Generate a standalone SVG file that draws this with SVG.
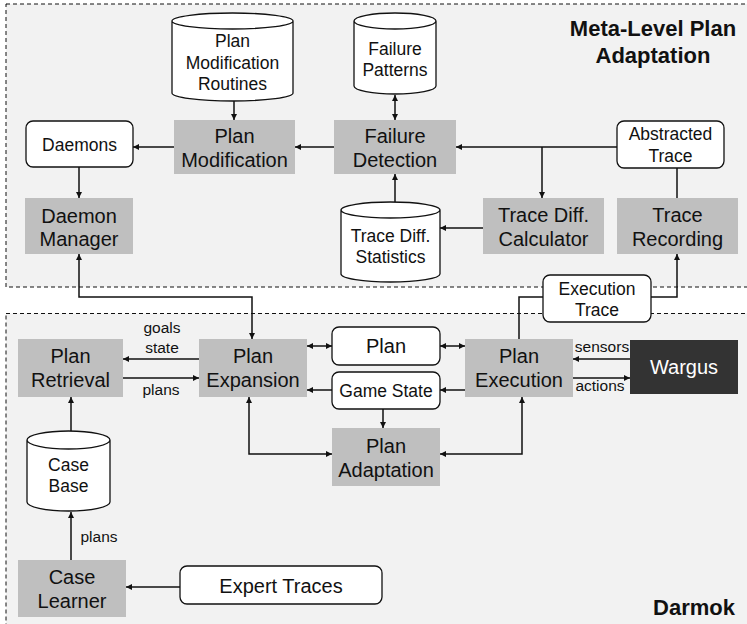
<svg xmlns="http://www.w3.org/2000/svg" width="747" height="624" viewBox="0 0 747 624">
<style>
text{font-family:"Liberation Sans",Arial,sans-serif;fill:#111;text-anchor:middle}
.g{fill:#bfbfbf}
.w{fill:#fff;stroke:#111;stroke-width:1.3}
.t20{font-size:20px}
.t17{font-size:17.5px}
.t15{font-size:15.5px}
.ttl{font-size:22px;font-weight:bold}
.c{fill:none;stroke:#111;stroke-width:1.5}
.cont{fill:#f2f2f2;stroke:#111;stroke-width:1;stroke-dasharray:4 3}
</style>
<defs>
<marker id="a" markerUnits="userSpaceOnUse" markerWidth="7" markerHeight="7" refX="6" refY="3" orient="auto-start-reverse"><path d="M0,0 L6,3 L0,6 z" fill="#111"/></marker>
</defs>
<rect width="747" height="624" fill="#fff"/>
<g id="meta-container"><rect class="cont" x="6" y="4" width="800" height="283"/><text class="ttl" x="653" y="36">Meta-Level Plan</text><text class="ttl" x="653" y="63">Adaptation</text></g>
<g id="darmok-container"><rect class="cont" x="6" y="313.5" width="800" height="400"/><text class="ttl" x="694" y="615">Darmok</text></g>

<g id="connectors">
<path class="c" d="M234,101 V120" marker-end="url(#a)"/>
<path class="c" d="M174,147 H133" marker-end="url(#a)"/>
<path class="c" d="M79,167 V198" marker-end="url(#a)"/>
<path class="c" d="M334,147 H295" marker-end="url(#a)"/>
<path class="c" d="M395,95 V120" marker-start="url(#a)" marker-end="url(#a)"/>
<path class="c" d="M395,202 V174" marker-end="url(#a)"/>
<path class="c" d="M617,147 H456" marker-end="url(#a)"/>
<path class="c" d="M542,147 V198" marker-end="url(#a)"/>
<path class="c" d="M677,198 V168"/>
<path class="c" d="M483,228 H440" marker-end="url(#a)"/>
<path class="c" d="M519,339 V297 H543"/>
<path class="c" d="M651,297 H677 V254" marker-end="url(#a)"/>
<path class="c" d="M79,254 V297 H252 V339" marker-start="url(#a)" marker-end="url(#a)"/>
<path class="c" d="M199,359 H123" marker-end="url(#a)"/>
<path class="c" d="M123,378 H199" marker-end="url(#a)"/>
<path class="c" d="M71,397 V440" marker-start="url(#a)" marker-end="url(#a)"/>
<path class="c" d="M307,346 H332" marker-start="url(#a)" marker-end="url(#a)"/>
<path class="c" d="M440,346 H465" marker-start="url(#a)" marker-end="url(#a)"/>
<path class="c" d="M332,390 H307" marker-end="url(#a)"/>
<path class="c" d="M465,390 H440" marker-end="url(#a)"/>
<path class="c" d="M383,409 V428" marker-end="url(#a)"/>
<path class="c" d="M249,397 V454 H332" marker-start="url(#a)" marker-end="url(#a)"/>
<path class="c" d="M522,397 V454 H440" marker-start="url(#a)" marker-end="url(#a)"/>
<path class="c" d="M630,359 H573" marker-end="url(#a)"/>
<path class="c" d="M573,378 H630" marker-end="url(#a)"/>
<path class="c" d="M71,560 V512" marker-end="url(#a)"/>
<path class="c" d="M180,587 H126" marker-end="url(#a)"/>
<text class="t15" x="162" y="333">goals</text>
<text class="t15" x="162" y="353">state</text>
<text class="t15" x="161" y="395">plans</text>
<text class="t15" x="602" y="352">sensors</text>
<text class="t15" x="600" y="391">actions</text>
<text class="t15" x="99" y="542">plans</text>
</g>

<g id="plan-modification-routines"><path class="w" d="M172,21 V93 A60.5,8 0 0 0 293,93 V21 A60.5,8 0 0 0 172,21 Z M172,21 A60.5,8 0 0 0 293,21"/><text class="t17" x="232.5" y="47">Plan</text><text class="t17" x="232.5" y="68.5">Modification</text><text class="t17" x="232.5" y="90">Routines</text></g>
<g id="failure-patterns"><path class="w" d="M354,21 V86 A41,8 0 0 0 436,86 V21 A41,8 0 0 0 354,21 Z M354,21 A41,8 0 0 0 436,21"/><text class="t17" x="395" y="55">Failure</text><text class="t17" x="395" y="76">Patterns</text></g>
<g id="trace-diff-statistics"><path class="w" d="M341,210 V274 A49.5,8 0 0 0 440,274 V210 A49.5,8 0 0 0 341,210 Z M341,210 A49.5,8 0 0 0 440,210"/><text class="t17" x="390.5" y="242">Trace Diff.</text><text class="t17" x="390.5" y="263">Statistics</text></g>
<g id="case-base"><path class="w" d="M27,440 V502 A41.5,9 0 0 0 110,502 V440 A41.5,9 0 0 0 27,440 Z M27,440 A41.5,9 0 0 0 110,440"/><text class="t17" x="68.5" y="471">Case</text><text class="t17" x="68.5" y="492">Base</text></g>

<g id="daemons"><rect class="w" x="26" y="121" width="107" height="46" rx="7"/><text class="t17" x="79.5" y="150.5">Daemons</text></g>
<g id="plan-modification"><rect class="g" x="174" y="120" width="121" height="54"/><text class="t20" x="234.5" y="143">Plan</text><text class="t20" x="234.5" y="167">Modification</text></g>
<g id="failure-detection"><rect class="g" x="334" y="120" width="122" height="54"/><text class="t20" x="395" y="143">Failure</text><text class="t20" x="395" y="167">Detection</text></g>
<g id="abstracted-trace"><rect class="w" x="617" y="121" width="107" height="47" rx="7"/><text class="t17" x="670.5" y="140">Abstracted</text><text class="t17" x="670.5" y="162">Trace</text></g>
<g id="daemon-manager"><rect class="g" x="25" y="198" width="108" height="56"/><text class="t20" x="79" y="222.5">Daemon</text><text class="t20" x="79" y="246">Manager</text></g>
<g id="trace-diff-calculator"><rect class="g" x="483" y="198" width="121" height="56"/><text class="t20" x="543.5" y="222">Trace Diff.</text><text class="t20" x="543.5" y="245.5">Calculator</text></g>
<g id="trace-recording"><rect class="g" x="617" y="198" width="121" height="56"/><text class="t20" x="677.5" y="222">Trace</text><text class="t20" x="677.5" y="245.5">Recording</text></g>
<g id="execution-trace"><rect class="w" x="543" y="275" width="108" height="47" rx="7"/><text class="t17" x="597" y="295">Execution</text><text class="t17" x="597" y="316">Trace</text></g>

<g id="plan-retrieval"><rect class="g" x="18" y="339" width="105" height="58"/><text class="t20" x="70.5" y="363">Plan</text><text class="t20" x="70.5" y="387">Retrieval</text></g>
<g id="plan-expansion"><rect class="g" x="199" y="339" width="108" height="58"/><text class="t20" x="253" y="363">Plan</text><text class="t20" x="253" y="387">Expansion</text></g>
<g id="plan"><rect class="w" x="332" y="327" width="108" height="38" rx="7"/><text class="t20" x="386" y="353">Plan</text></g>
<g id="game-state"><rect class="w" x="332" y="372" width="108" height="37" rx="7"/><text class="t17" x="386" y="397">Game State</text></g>
<g id="plan-execution"><rect class="g" x="465" y="339" width="108" height="58"/><text class="t20" x="519" y="363">Plan</text><text class="t20" x="519" y="387">Execution</text></g>
<g id="wargus"><rect x="630" y="340" width="108" height="54" fill="#333"/><text class="t20" x="684" y="374" style="fill:#fff">Wargus</text></g>
<g id="plan-adaptation"><rect class="g" x="332" y="428" width="108" height="58"/><text class="t20" x="386" y="453">Plan</text><text class="t20" x="386" y="477">Adaptation</text></g>
<g id="case-learner"><rect class="g" x="18" y="560" width="108" height="57"/><text class="t20" x="72" y="583.5">Case</text><text class="t20" x="72" y="608">Learner</text></g>
<g id="expert-traces"><rect class="w" x="180" y="566" width="202" height="38" rx="7"/><text class="t20" x="281" y="593">Expert Traces</text></g>
</svg>
